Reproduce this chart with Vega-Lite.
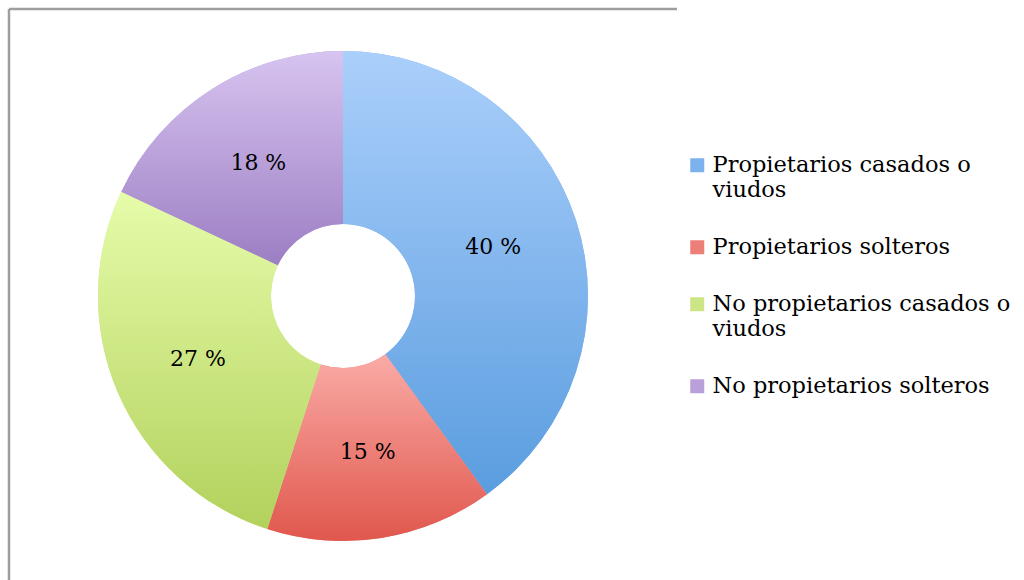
{
  "$schema": "https://vega.github.io/schema/vega-lite/v6.json",
  "autosize": {"type": "none"},
  "padding": {"left": 9, "top": 9, "right": 347, "bottom": 0},
  "width": 668,
  "height": 574,
  "background": "white",
  "view": {"stroke": "#9e9e9e", "strokeWidth": 2.5, "strokeDash": [668, 1242, 574, 0]},
  "config": {
    "legend": {
      "orient": "none",
      "legendX": 677,
      "legendY": 145,
      "padding": 0,
      "symbolType": "square",
      "symbolSize": 196,
      "symbolStrokeWidth": 0,
      "labelFont": "DejaVu Serif",
      "labelFontSize": 22.5,
      "labelColor": "#000000",
      "labelOffset": 4,
      "labelLimit": 0,
      "rowPadding": 34,
      "title": null
    }
  },
  "data": {
    "values": [
      {"cat": "Propietarios casados o viudos", "value": 40, "idx": 1, "label": "40 %"},
      {"cat": "Propietarios solteros", "value": 15, "idx": 2, "label": "15 %"},
      {"cat": "No propietarios casados o viudos", "value": 27, "idx": 3, "label": "27 %"},
      {"cat": "No propietarios solteros", "value": 18, "idx": 4, "label": "18 %"}
    ]
  },
  "encoding": {
    "theta": {"field": "value", "type": "quantitative", "stack": true},
    "order": {"field": "idx", "type": "quantitative"}
  },
  "layer": [
    {
      "mark": {"type": "arc", "outerRadius": 245, "innerRadius": 72},
      "encoding": {
        "color": {
          "field": "cat",
          "type": "nominal",
          "sort": ["Propietarios casados o viudos", "Propietarios solteros", "No propietarios casados o viudos", "No propietarios solteros"],
          "scale": {
            "domain": ["Propietarios casados o viudos", "Propietarios solteros", "No propietarios casados o viudos", "No propietarios solteros"],
            "range": ["#7eb2ee", "#ee7f78", "#cce685", "#b9a0da"]
          },
          "legend": {
            "title": null,
            "labelExpr": "datum.label == 'Propietarios casados o viudos' ? ['Propietarios casados o', 'viudos'] : datum.label == 'No propietarios casados o viudos' ? ['No propietarios casados o', 'viudos'] : datum.label"
          }
        }
      }
    },
    {
      "mark": {"type": "arc", "outerRadius": 245, "innerRadius": 72},
      "encoding": {
        "fill": {
          "condition": [
            {"test": "datum.idx == 1", "value": {"gradient": "linear", "x1": 0, "y1": 0, "x2": 0, "y2": 1, "stops": [{"offset": 0, "color": "#abcffb"}, {"offset": 1, "color": "#5a9ddf"}]}},
            {"test": "datum.idx == 2", "value": {"gradient": "linear", "x1": 0, "y1": 0, "x2": 0, "y2": 1, "stops": [{"offset": 0, "color": "#faaba6"}, {"offset": 1, "color": "#e0574d"}]}},
            {"test": "datum.idx == 3", "value": {"gradient": "linear", "x1": 0, "y1": 0, "x2": 0, "y2": 1, "stops": [{"offset": 0, "color": "#e6fcaa"}, {"offset": 1, "color": "#b2d15c"}]}}
          ],
          "value": {"gradient": "linear", "x1": 0, "y1": 0, "x2": 0, "y2": 1, "stops": [{"offset": 0, "color": "#d7c4f0"}, {"offset": 1, "color": "#9c7ec3"}]}
        }
      }
    },
    {
      "mark": {"type": "text", "radius": 158, "font": "DejaVu Serif", "fontSize": 22, "color": "#000000"},
      "encoding": {
        "text": {"field": "label", "type": "nominal"}
      }
    }
  ]
}
